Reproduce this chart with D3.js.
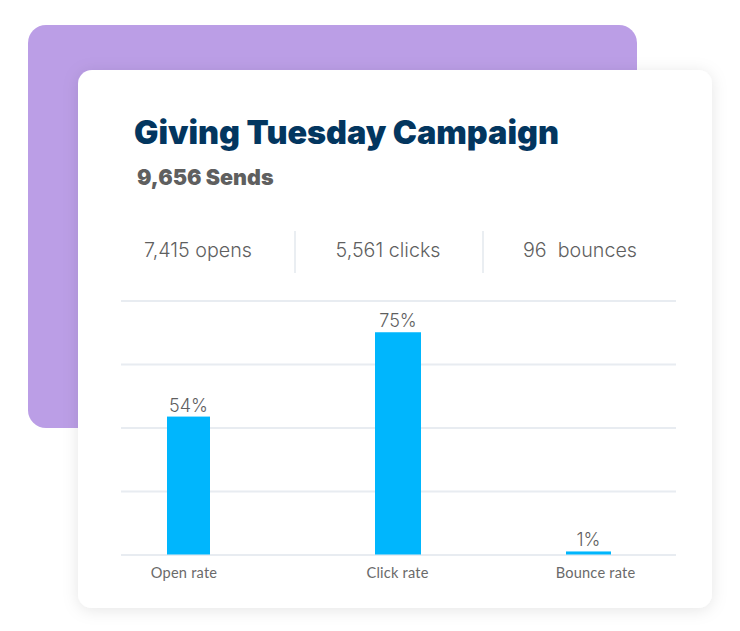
<!DOCTYPE html>
<html>
<head>
<meta charset="utf-8">
<script src="https://cdn.jsdelivr.net/npm/d3@7"></script>
<style>
  html, body { margin: 0; padding: 0; background: #fff; }
  svg { display: block; }
</style>
</head>
<body>
<div id="chart"></div>
<script>
var titleText = "Giving Tuesday Campaign";
var subtitleText = "9,656 Sends";
var stats = ["7,415 opens", "5,561 clicks", "96  bounces"];
var categories = ["Open rate", "Click rate", "Bounce rate"];
var barLabels = ["54%", "75%", "1%"];
// drawn heights (0-100). the 75% bar really sits at about 87.5 in the picture
var barHeights = [54.3, 87.5, 1.2];
var gridTicks = [0, 25, 50, 75, 100];

var width = 740, height = 631;

var svg = d3.select("#chart").append("svg")
  .attr("width", width)
  .attr("height", height);

var defs = svg.append("defs");
var shadow = defs.append("filter").attr("id", "cardShadow")
  .attr("x", "-10%").attr("y", "-10%").attr("width", "120%").attr("height", "120%");
shadow.append("feDropShadow")
  .attr("dx", 0).attr("dy", 2).attr("stdDeviation", 8)
  .attr("flood-color", "#000").attr("flood-opacity", 0.1);

svg.append("rect")
  .attr("x", 28).attr("y", 25).attr("width", 609).attr("height", 403).attr("rx", 18)
  .attr("fill", "#bb9ee6");

svg.append("rect")
  .attr("x", 78).attr("y", 70).attr("width", 634).attr("height", 538).attr("rx", 14)
  .attr("fill", "#fff")
  .attr("filter", "url(#cardShadow)");

svg.append("text")
  .attr("x", 134).attr("y", 144)
  .attr("font-family", "Inter").attr("font-weight", 900).attr("font-size", 32.4)
  .attr("fill", "#03365f")
  .text(titleText);

svg.append("text")
  .attr("x", 137).attr("y", 185)
  .attr("font-family", "Inter").attr("font-weight", 900).attr("font-size", 21.5)
  .attr("fill", "#5f5f5f")
  .text(subtitleText);

// header numbers
var statX = d3.scaleOrdinal().domain(stats).range([198, 388, 580]);
svg.selectAll(".stat").data(stats).enter().append("text")
  .attr("class", "stat")
  .attr("x", function(d) { return statX(d); })
  .attr("y", 257)
  .attr("text-anchor", "middle")
  .attr("xml:space", "preserve")
  .attr("font-family", "Inter").attr("font-weight", 300).attr("font-size", 19.7)
  .attr("fill", "#5f5f5f")
  .text(function(d) { return d; });

svg.selectAll(".divider").data(stats.slice(1)).enter().append("line")
  .attr("class", "divider")
  .attr("x1", function(d, i) { return [295, 483][i]; })
  .attr("x2", function(d, i) { return [295, 483][i]; })
  .attr("y1", 231).attr("y2", 273)
  .attr("stroke", "#e3e8ee").attr("stroke-width", 1.5);

var x = d3.scaleOrdinal().domain(categories).range([188.5, 398, 588.5]);
var barWidth = d3.scaleOrdinal().domain(categories).range([43, 46, 45]);
var labelX = d3.scaleOrdinal().domain(categories).range([183.5, 397, 595]);
var y = d3.scaleLinear().domain([0, 100]).range([554.5, 300.5]);

// grid is drawn with the axis, labels removed
var grid = svg.append("g")
  .attr("transform", "translate(121,0)")
  .call(d3.axisLeft(y).tickValues(gridTicks).tickSize(-555).tickFormat(""));
grid.select(".domain").remove();
grid.selectAll("line").attr("stroke", "#e8ecf1").attr("stroke-width", 2);

svg.selectAll(".bar").data(categories).enter().append("rect")
  .attr("class", "bar")
  .attr("x", function(d) { return x(d) - barWidth(d) / 2; })
  .attr("width", function(d) { return barWidth(d); })
  .attr("y", function(d, i) { return y(barHeights[i]); })
  .attr("height", function(d, i) { return y(0) - y(barHeights[i]); })
  .attr("fill", "#00b6fd");

svg.selectAll(".barLabel").data(categories).enter().append("text")
  .attr("class", "barLabel")
  .attr("x", function(d) { return x(d); })
  .attr("y", function(d, i) { return y(barHeights[i]) - 5; })
  .attr("text-anchor", "middle")
  .attr("font-family", "Inter").attr("font-weight", 300).attr("font-size", 18)
  .attr("fill", "#5f5f5f")
  .text(function(d, i) { return barLabels[i]; });

var xAxis = svg.append("g")
  .attr("transform", "translate(0,554.5)")
  .call(d3.axisBottom(labelX).tickSize(0).tickPadding(13));
xAxis.select(".domain").remove();
xAxis.selectAll("text")
  .attr("font-family", "Lato").attr("font-size", 14.6)
  .attr("letter-spacing", 0.2)
  .attr("fill", "#6a6a6a");
</script>
</body>
</html>
